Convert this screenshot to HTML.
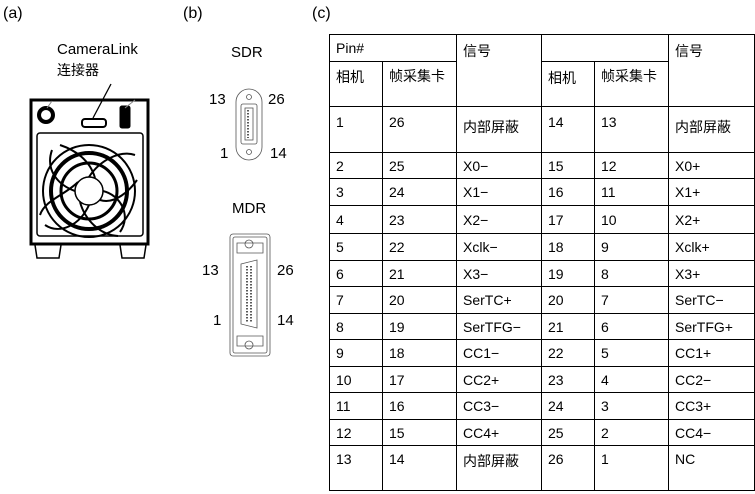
<!DOCTYPE html>
<html><head><meta charset="utf-8"><style>
body{margin:0;width:755px;height:494px;background:#fff;position:relative;overflow:hidden;font-family:"Liberation Sans","Noto Sans CJK SC",sans-serif;color:#000}
.t{position:absolute;font-size:15px;white-space:nowrap}
table{position:absolute;left:329px;top:34px;border-collapse:collapse;font-size:14px}
td{border:1.3px solid #000;padding:0 0 0 6px;vertical-align:middle;box-sizing:border-box}
td.top{vertical-align:top;padding-top:6px}
</style></head><body>
<div class="t" style="left:3px;top:5px;font-size:16px">(a)</div>
<div class="t" style="left:183px;top:5px;font-size:16px">(b)</div>
<div class="t" style="left:312px;top:5px;font-size:16px">(c)</div>
<div class="t" style="left:57px;top:41px;font-size:15px">CameraLink</div>
<div class="t" style="left:57px;top:60px;font-size:14px">连接器</div>
<div class="t" style="left:231px;top:44px">SDR</div>
<div class="t" style="left:209px;top:91px">13</div>
<div class="t" style="left:268px;top:91px">26</div>
<div class="t" style="left:220px;top:145px">1</div>
<div class="t" style="left:270px;top:145px">14</div>
<div class="t" style="left:232px;top:200px">MDR</div>
<div class="t" style="left:202px;top:262px">13</div>
<div class="t" style="left:277px;top:262px">26</div>
<div class="t" style="left:213px;top:312px">1</div>
<div class="t" style="left:277px;top:312px">14</div>
<svg width="755" height="494" style="position:absolute;left:0;top:0">
<g fill="none" stroke="#000">
<line x1="111" y1="84" x2="93" y2="118" stroke-width="1.3"/>
<rect x="31" y="100" width="117" height="144" stroke-width="3"/>
<rect x="37" y="133" width="106" height="103" rx="3" stroke-width="1.5"/>
<path d="M35 245 L37 258 L59 258 L61 245 M120 245 L122 258 L144 258 L146 245" stroke-width="1.5"/>
<circle cx="46" cy="115" r="7" stroke-width="4"/>
<rect x="82" y="119" width="24" height="8" rx="3" stroke-width="2"/>
<rect x="120" y="106" width="10" height="22" rx="2" fill="#000"/>
<circle cx="89" cy="191" r="46" stroke-width="2"/>
<circle cx="89" cy="191" r="38" stroke-width="4"/>
<circle cx="89" cy="191" r="28" stroke-width="3"/>
<circle cx="89" cy="191" r="14" stroke-width="1.5"/>
<path d="M89 177 C100 160 120 150 135 155 M103 191 C120 195 132 215 120 232 M89 205 C80 225 60 235 45 225 M75 191 C58 185 45 170 52 150 M95 178 C90 160 75 150 60 145 M100 200 C115 205 130 190 137 180 M80 202 C85 220 100 235 118 236 M78 182 C65 195 45 200 40 215" stroke-width="2"/>
<line x1="47" y1="108" x2="52" y2="101" stroke="#888"/>
<line x1="125" y1="108" x2="135" y2="100" stroke="#888"/>
<g stroke="#555" stroke-width="0.8">
<rect x="236" y="89" width="26" height="71" rx="13"/>
<rect x="241" y="104" width="16" height="40" rx="2"/>
<rect x="245" y="108" width="8" height="32"/>
<circle cx="249" cy="97" r="2.5"/><circle cx="249" cy="152" r="2.5"/>
<rect x="230" y="234" width="40" height="122" rx="3"/>
<rect x="233" y="237" width="34" height="116" rx="2"/>
<path d="M237 243 h26 v10 h-26 z M237 336 h26 v10 h-26 z"/>
<circle cx="249" cy="244" r="4"/><circle cx="249" cy="345" r="4"/>
<path d="M241 264 L257 260 L257 328 L241 324 Z"/>
</g>
<g stroke="#222" stroke-width="1.5" stroke-dasharray="1.5 1.5"><line x1="248" y1="110" x2="248" y2="138"/><line x1="247" y1="266" x2="247" y2="322"/><line x1="251" y1="266" x2="251" y2="322"/></g>
</g>
</svg>
<table>
<colgroup><col style="width:53px"><col style="width:74px"><col style="width:85px"><col style="width:53px"><col style="width:74px"><col style="width:86px"></colgroup>
<tr style="height:27px"><td colspan="2">Pin#</td><td rowspan="2" class="top" style="padding-top:6px">信号</td><td colspan="2"></td><td rowspan="2" class="top" style="padding-top:6px">信号</td></tr>
<tr style="height:45px"><td class="top" style="padding-top:5px">相机</td><td class="top" style="padding-top:4px">帧采集卡</td><td></td><td class="top" style="padding-top:4px">帧采集卡</td></tr>
<tr style="height:46px"><td class="top" style="padding-top:7px">1</td><td class="top" style="padding-top:7px">26</td><td class="top" style="padding-top:10px">内部屏蔽</td><td class="top" style="padding-top:7px">14</td><td class="top" style="padding-top:7px">13</td><td class="top" style="padding-top:10px">内部屏蔽</td></tr>
<tr style="height:26px"><td>2</td><td>25</td><td>X0−</td><td>15</td><td>12</td><td>X0+</td></tr>
<tr style="height:27px"><td>3</td><td>24</td><td>X1−</td><td>16</td><td>11</td><td>X1+</td></tr>
<tr style="height:28px"><td>4</td><td>23</td><td>X2−</td><td>17</td><td>10</td><td>X2+</td></tr>
<tr style="height:27px"><td>5</td><td>22</td><td>Xclk−</td><td>18</td><td>9</td><td>Xclk+</td></tr>
<tr style="height:26px"><td>6</td><td>21</td><td>X3−</td><td>19</td><td>8</td><td>X3+</td></tr>
<tr style="height:27px"><td>7</td><td>20</td><td>SerTC+</td><td>20</td><td>7</td><td>SerTC−</td></tr>
<tr style="height:26px"><td>8</td><td>19</td><td>SerTFG−</td><td>21</td><td>6</td><td>SerTFG+</td></tr>
<tr style="height:27px"><td>9</td><td>18</td><td>CC1−</td><td>22</td><td>5</td><td>CC1+</td></tr>
<tr style="height:26px"><td>10</td><td>17</td><td>CC2+</td><td>23</td><td>4</td><td>CC2−</td></tr>
<tr style="height:27px"><td>11</td><td>16</td><td>CC3−</td><td>24</td><td>3</td><td>CC3+</td></tr>
<tr style="height:26px"><td>12</td><td>15</td><td>CC4+</td><td>25</td><td>2</td><td>CC4−</td></tr>
<tr style="height:45px"><td class="top" style="padding-top:5px">13</td><td class="top" style="padding-top:5px">14</td><td class="top" style="padding-top:5px">内部屏蔽</td><td class="top" style="padding-top:5px">26</td><td class="top" style="padding-top:5px">1</td><td class="top" style="padding-top:5px">NC</td></tr>
</table>
<div class="t" style="left:548px;top:68px;font-size:14px">相机</div>
</body></html>
